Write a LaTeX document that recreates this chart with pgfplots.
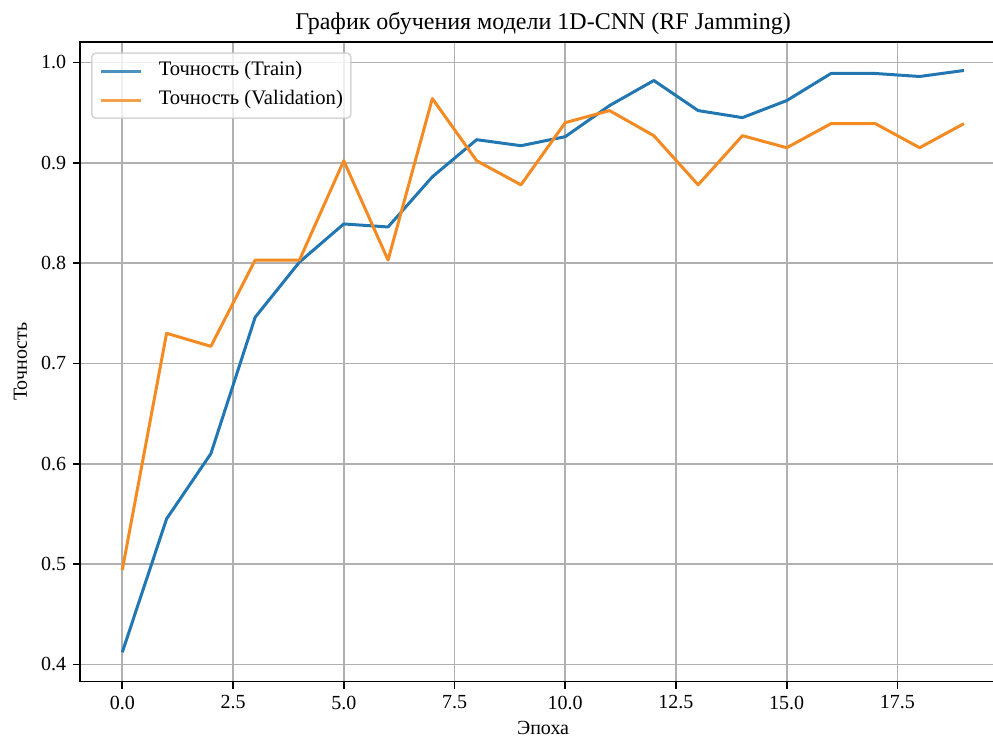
\documentclass[border=0pt]{standalone}
\usepackage{pgfplots}
\pgfplotsset{compat=1.18}
\usepackage{fontspec}
\setmainfont{Liberation Serif}
\definecolor{mblue}{HTML}{2277B3}
\definecolor{morange}{HTML}{F48A22}
\definecolor{mgrid}{HTML}{B0B0B0}
\definecolor{mlegend}{HTML}{CCCCCC}
\begin{document}
\begin{tikzpicture}
\path[use as bounding box] (-40.1pt,-27.65pt) rectangle (456.4pt,340.85pt);
\clip (-40.1pt,-27.65pt) rectangle (456.4pt,340.85pt);
\begin{axis}[
  at={(0pt,0pt)}, anchor=south west,
  scale only axis, width=462.9pt, height=319.85pt,
  xmin=-0.95, xmax=19.95, ymin=0.3827, ymax=1.0204,
  xtick={0,2.5,...,17.5}, ytick={0.4,0.5,...,1.0},
  xtick pos=left, ytick pos=left,
  /pgf/number format/assume math mode=true,
  xticklabel style={/pgf/number format/.cd, fixed, fixed zerofill, precision=1},
  yticklabel style={/pgf/number format/.cd, fixed, fixed zerofill, precision=1},
  tick label style={font=\fontsize{10}{12}\selectfont},
  tick align=outside, major tick length=3.5pt,
  every tick/.style={black, line width=0.8pt},
  axis line style={black, line width=0.8pt},
  grid=major, major grid style={mgrid, line width=0.8pt},
  title={График обучения модели 1D-CNN (RF Jamming)},
  title style={font=\fontsize{12}{14.4}\selectfont, at={(axis description cs:0.5,1)}, anchor=base, inner sep=0pt},
  xlabel={Эпоха},
  xlabel style={font=\fontsize{10}{12}\selectfont, at={(axis description cs:0.5,-0.0833)}, anchor=base, inner sep=0pt},
  ylabel={Точность},
  ylabel style={font=\fontsize{10}{12}\selectfont, at={(axis description cs:-0.05747,0.5)}, anchor=base, inner sep=0pt},
  legend cell align=left,
  legend image code/.code={\draw[#1] (0pt,0pt) -- (20pt,0pt);},
  legend style={at={(axis description cs:0.01167,0.9839)}, anchor=north west,
    draw=mlegend, line width=0.8pt, rounded corners=2pt, fill=white, fill opacity=0.8, text opacity=1, draw opacity=0.8,
    inner xsep=4pt, inner ysep=4.25pt, row sep=5pt, column sep=8pt,
    font=\fontsize{10.3}{12}\selectfont,
    nodes={inner sep=0pt, text height=7pt, text depth=2.5pt}},
]
\addplot[mblue, line width=1.5pt, line join=round] coordinates {
(0,0.412) (1,0.545) (2,0.610) (3,0.746) (4,0.801) (5,0.839) (6,0.836) (7,0.886) (8,0.923) (9,0.917)
(10,0.926) (11,0.957) (12,0.982) (13,0.952) (14,0.945) (15,0.962) (16,0.989) (17,0.989) (18,0.986) (19,0.992)};
\addlegendentry{Точность (Train)}
\addplot[morange, line width=1.5pt, line join=round] coordinates {
(0,0.494) (1,0.730) (2,0.717) (3,0.803) (4,0.803) (5,0.902) (6,0.803) (7,0.964) (8,0.902) (9,0.878)
(10,0.940) (11,0.952) (12,0.927) (13,0.878) (14,0.927) (15,0.915) (16,0.939) (17,0.939) (18,0.915) (19,0.939)};
\addlegendentry{Точность (Validation)}
\end{axis}
\end{tikzpicture}
\end{document}
